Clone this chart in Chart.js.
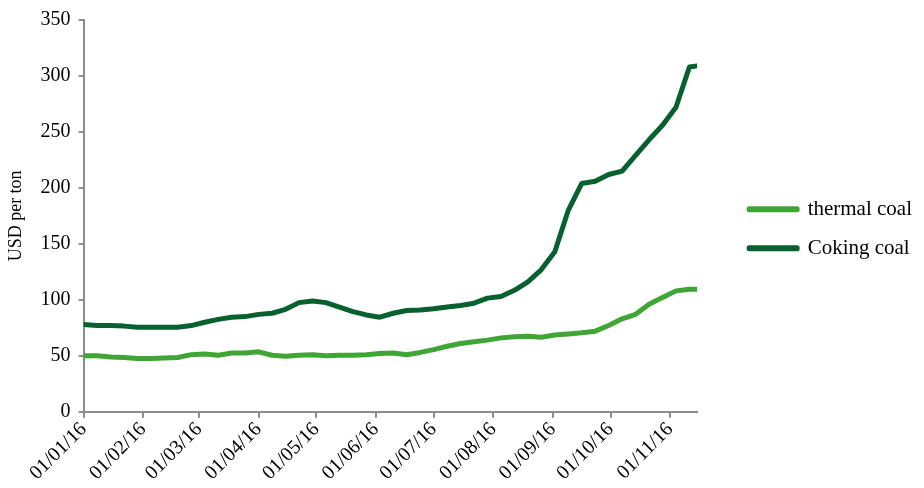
<!DOCTYPE html>
<html>
<head>
<meta charset="utf-8">
<script src="https://cdn.jsdelivr.net/npm/chart.js@4/dist/chart.umd.min.js"></script>
<style>
    html, body { margin: 0; padding: 0; background: #fff; }
    #wrap { width: 924px; height: 488px; }
</style>
</head>
<body>
<div id="wrap"><canvas id="lineChart" width="924" height="488"></canvas></div>
<script>
// Días desde el 01/01/16 (datos semanales)
const dias = [0, 7, 14, 21, 28, 35, 42, 49, 56, 63, 70, 77, 84, 91, 98, 105, 112, 119, 126, 133,
    140, 147, 154, 161, 168, 175, 182, 189, 196, 203, 210, 217, 224, 231, 238, 245, 252, 259,
    266, 273, 280, 287, 294, 301, 308, 315, 319];

// USD por tonelada
const thermalCoal = [50, 50, 49, 48.5, 47.5, 47.5, 48, 48.5, 51, 51.5, 50.5, 52.5, 52.5, 53.5, 50.5,
    49.5, 50.5, 51, 50, 50.5, 50.5, 51, 52, 52.5, 51, 53, 55.5, 58.5, 61, 62.5, 64, 66, 67, 67.5,
    66.5, 68.5, 69.5, 70.5, 72, 77, 83, 87, 96, 102, 108, 109.5, 109.5];
const cokingCoal = [78, 77, 77, 76.5, 75.5, 75.5, 75.5, 75.5, 77, 80, 82.5, 84.5, 85, 87, 88, 91.5,
    97.5, 99, 97.5, 93.5, 89.5, 86.5, 84.5, 88, 90.5, 91, 92, 93.5, 95, 97, 101.5, 103, 108.5,
    116, 127, 143, 180, 204, 206, 212, 215, 229, 243, 256, 272, 308, 309];

// Inicio de cada mes (días desde el 01/01/16) y sus etiquetas
const iniciosMes = [0, 31, 60, 91, 121, 152, 182, 213, 244, 274, 305];
const etiquetasMes = ['01/01/16', '01/02/16', '01/03/16', '01/04/16', '01/05/16', '01/06/16',
    '01/07/16', '01/08/16', '01/09/16', '01/10/16', '01/11/16'];

const fuente = 'Liberation Serif, Times New Roman, serif';
const gris = '#8c8c8c';

const ctx = document.getElementById('lineChart').getContext('2d');
new Chart(ctx, {
    type: 'line',
    data: {
        datasets: [{
            label: 'thermal coal',
            data: dias.map((d, i) => ({ x: d, y: thermalCoal[i] })),
            borderColor: '#3fa535',
            backgroundColor: '#3fa535',
            borderWidth: 5,
            pointRadius: 0,
            borderCapStyle: 'round',
            borderJoinStyle: 'round',
            tension: 0
        }, {
            label: 'Coking coal',
            data: dias.map((d, i) => ({ x: d, y: cokingCoal[i] })),
            borderColor: '#07612f',
            backgroundColor: '#07612f',
            borderWidth: 5,
            pointRadius: 0,
            borderCapStyle: 'round',
            borderJoinStyle: 'round',
            tension: 0
        }]
    },
    options: {
        responsive: false,
        animation: false,
        layout: { padding: { left: 5, right: 2, top: 9, bottom: 3 } },
        scales: {
            x: {
                type: 'linear',
                min: 0,
                max: 319,
                afterBuildTicks: axis => {
                    axis.ticks = iniciosMes.map(v => ({ value: v }));
                },
                ticks: {
                    autoSkip: false,
                    minRotation: 45,
                    maxRotation: 45,
                    padding: 0,
                    color: '#000',
                    font: { family: fuente, size: 20 },
                    callback: (value) => etiquetasMes[iniciosMes.indexOf(value)]
                },
                grid: {
                    display: true,
                    drawOnChartArea: false,
                    drawTicks: true,
                    tickLength: 6,
                    color: gris,
                    lineWidth: 2
                },
                border: { color: gris, width: 2 }
            },
            y: {
                min: 0,
                max: 350,
                ticks: {
                    stepSize: 50,
                    color: '#000',
                    padding: 8,
                    font: { family: fuente, size: 20 }
                },
                grid: {
                    display: true,
                    drawOnChartArea: false,
                    drawTicks: true,
                    tickLength: 5,
                    color: gris,
                    lineWidth: 2
                },
                border: { color: gris, width: 2 },
                title: {
                    display: true,
                    text: 'USD per ton',
                    color: '#000',
                    font: { family: fuente, size: 18 },
                    padding: { top: 0, bottom: 6 }
                }
            },
            // eje vacío: solo deja espacio entre el gráfico y la leyenda
            espacio: {
                type: 'linear',
                position: 'right',
                display: true,
                ticks: { display: false },
                grid: { display: false },
                border: { display: false },
                afterFit: scale => { scale.width = 34; }
            }
        },
        plugins: {
            legend: {
                position: 'right',
                fullSize: false,
                maxWidth: 240,
                title: {
                    display: true,
                    text: ' ',
                    font: { size: 10, lineHeight: 1.2 },
                    padding: 7
                },
                labels: {
                    boxWidth: 48,
                    boxHeight: 1,
                    padding: 18,
                    color: '#000',
                    font: { family: fuente, size: 21 }
                }
            },
            tooltip: { enabled: false }
        }
    }
});
</script>
</body>
</html>
